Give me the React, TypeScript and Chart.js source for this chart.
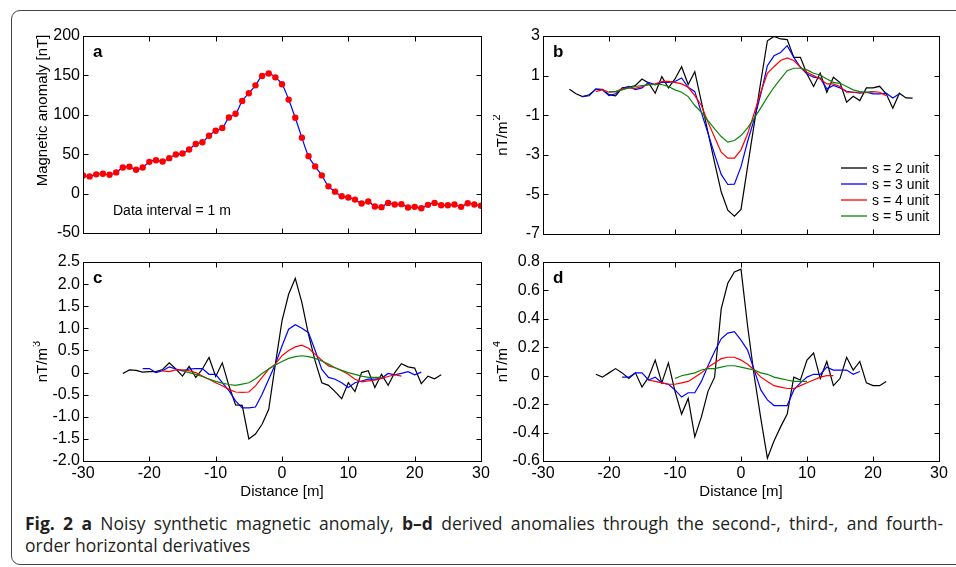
import React, { useEffect, useRef } from 'react';
import { Chart, registerables } from 'chart.js';

Chart.register(...registerables);

// ---------- data ----------
const distanceMin = -30;
const distanceMax = 30;
const distanceStep = 10;

// panel a: noisy synthetic anomaly, one sample per metre starting at x = -30
const anomalyX0 = -30;
const anomalyValues = [23.1, 21.8, 24.4, 25.2, 24.0, 26.9, 33.2, 34.0, 30.3, 33.2,
  40.3, 42.4, 40.8, 45.0, 49.6, 50.8, 55.9, 63.0, 65.1, 73.5,
  79.8, 83.2, 96.6, 101.3, 117.6, 127.3, 137.4, 149.2, 152.5, 147.5,
  138.7, 119.3, 96.2, 71.0, 47.5, 34.5, 23.1, 9.2, 2.5, -3.4,
  -5.0, -7.6, -12.6, -10.1, -16.4, -17.2, -11.8, -13.9, -13.4, -17.6,
  -16.8, -18.5, -14.3, -11.8, -14.7, -14.7, -13.9, -16.8, -12.2, -13.9, -15.5];

const seriesLabels = ['s = 2 unit', 's = 3 unit', 's = 4 unit', 's = 5 unit'];
const seriesColors = ['#000000', '#0000ff', '#ff0000', '#0a850a'];

// panel b: second-order derivative
const bS2X0 = -26;
const bS2 = [0.31, 0.08, -0.06, 0.03, 0.31, 0.31, 0.04, -0.02, 0.38, 0.41,
  0.5, 0.83, 0.63, 0.11, 0.95, 0.38, 0.83, 1.45, 0.55, 1.2,
  -0.33, -1.87, -3.4, -4.87, -5.8, -6.1, -5.76, -3.6, -1.45, 0.7,
  2.76, 2.98, 2.85, 2.82, 1.92, 1.92, 1.08, 0.45, 1.13, 0.16,
  0.92, 0.65, -0.34, -0.04, -0.26, 0.38, 0.38, 0.46, 0.08, -0.65,
  0.11, -0.13, -0.14];
const bS3X0 = -24;
const bS3 = [-0.06, -0.02, 0.33, 0.28, -0.01, 0.08, 0.36, 0.45, 0.29, 0.38,
  0.66, 0.53, 0.66, 0.66, 0.7, 0.88, 0.41, 0.19, -0.87, -1.92,
  -2.98, -3.99, -4.5, -4.48, -3.6, -2.33, -1.2, 0.07, 1.5, 2.0,
  2.17, 2.51, 1.92, 1.42, 1.08, 0.92, 0.87, 0.33, 0.5, 0.38,
  0.21, 0.16, 0.11, 0.16, 0.08, 0.08, 0.11, -0.13, 0.08];
const bS4X0 = -22;
const bS4 = [0.19, 0.29, 0.16, 0.19, 0.33, 0.38, 0.36, 0.45, 0.55, 0.58,
  0.7, 0.71, 0.66, 0.58, 0.41, -0.01, -0.51, -1.35, -2.11, -2.87,
  -3.17, -3.17, -2.75, -1.94, -0.9, 0.16, 1.12, 1.45, 1.76, 1.89,
  1.76, 1.42, 1.17, 1.0, 0.83, 0.58, 0.58, 0.45, 0.16, 0.16,
  0.16, 0.14, 0.19, 0.16, -0.01];
const bS5X0 = -20;
const bS5 = [0.19, 0.19, 0.28, 0.38, 0.45, 0.5, 0.53, 0.55, 0.55, 0.45,
  0.28, 0.16, -0.06, -0.51, -0.85, -1.27, -1.69, -2.08, -2.36, -2.28,
  -2.03, -1.64, -1.15, -0.63, -0.09, 0.41, 0.83, 1.25, 1.37, 1.37,
  1.29, 1.12, 1.03, 0.83, 0.66, 0.61, 0.45, 0.28, 0.19, 0.16, 0.19];

// panel c: third-order derivative
const cS2X0 = -24;
const cS2 = [-0.02, 0.06, 0.05, 0.01, 0.02, 0.02, 0.07, 0.22, 0.08, -0.08,
  0.14, -0.11, 0.08, 0.34, -0.09, 0.22, -0.3, -0.73, -0.74, -1.5,
  -1.39, -1.17, -0.83, 0.19, 1.17, 1.77, 2.13, 1.58, 0.86, 0.26,
  -0.23, -0.29, -0.43, -0.59, -0.23, -0.43, 0.0, 0.04, -0.34, -0.04,
  -0.29, 0.0, 0.2, 0.13, 0.1, -0.25, -0.08, -0.14, -0.05];
const cS3X0 = -21;
const cS3 = [0.09, 0.09, 0.0, 0.04, 0.13, 0.08, 0.04, 0.08, 0.09, 0.09,
  -0.04, -0.04, -0.23, -0.41, -0.64, -0.8, -0.8, -0.78, -0.49, -0.15,
  0.19, 0.6, 0.98, 1.08, 1.0, 0.9, 0.5, 0.07, -0.11, -0.15,
  -0.23, -0.34, -0.23, -0.19, -0.15, -0.15, -0.13, -0.02, -0.05, -0.02,
  0.02, -0.05, 0.01];
const cS4X0 = -18;
const cS4 = [0.04, 0.02, 0.06, 0.06, 0.04, 0.0, -0.08, -0.15, -0.23, -0.3,
  -0.38, -0.44, -0.45, -0.44, -0.3, -0.11, 0.08, 0.19, 0.38, 0.5,
  0.58, 0.62, 0.55, 0.41, 0.28, 0.15, 0.11, 0.04, -0.04, -0.15,
  -0.21, -0.19, -0.17, -0.13, -0.09, -0.05, -0.08];
const cS5X0 = -15;
const cS5 = [0.04, 0.0, -0.04, -0.09, -0.15, -0.2, -0.24, -0.27, -0.29, -0.26,
  -0.23, -0.14, -0.02, 0.08, 0.17, 0.25, 0.32, 0.36, 0.38, 0.36,
  0.32, 0.26, 0.19, 0.11, 0.05, 0.0, -0.04, -0.08, -0.11, -0.11, -0.11];

// panel d: fourth-order derivative
const dS2X0 = -22;
const dS2 = [0.01, -0.01, 0.02, 0.05, 0.02, -0.02, 0.02, -0.08, -0.01, 0.11,
  -0.05, 0.09, -0.11, -0.27, -0.16, -0.43, -0.29, -0.11, -0.01, 0.47,
  0.65, 0.73, 0.75, 0.35, 0.0, -0.3, -0.58, -0.46, -0.36, -0.27,
  -0.01, -0.03, 0.11, 0.16, -0.02, 0.1, -0.07, -0.02, 0.13, 0.04,
  0.1, -0.05, -0.07, -0.07, -0.04];
const dS3X0 = -18;
const dS3 = [-0.01, -0.01, 0.02, 0.02, -0.03, -0.01, -0.05, -0.06, -0.1, -0.15,
  -0.12, -0.12, -0.04, 0.07, 0.17, 0.26, 0.3, 0.31, 0.25, 0.18,
  0.04, -0.1, -0.17, -0.21, -0.21, -0.21, -0.1, -0.05, -0.01, 0.01,
  0.01, 0.06, 0.04, 0.04, 0.04, 0.01, 0.03];
const dS4X0 = -14;
const dS4 = [-0.03, -0.04, -0.05, -0.06, -0.06, -0.05, -0.04, -0.01, 0.02, 0.06,
  0.09, 0.12, 0.13, 0.13, 0.11, 0.08, 0.04, -0.01, -0.04, -0.07,
  -0.08, -0.09, -0.09, -0.07, -0.05, -0.03, -0.01, 0.0, 0.0];
const dS5X0 = -10;
const dS5 = [-0.02, 0.0, 0.01, 0.02, 0.04, 0.05, 0.05, 0.06, 0.07, 0.07,
  0.06, 0.05, 0.04, 0.02, 0.01, -0.01, -0.02, -0.03, -0.04, -0.04, -0.04];

// axis ranges / ticks
const aYMin = -50, aYMax = 200, aYStep = 50;
const bYMin = -7, bYMax = 3, bYStep = 2;
const cYMin = -2.0, cYMax = 2.5, cYStep = 0.5;
const dYMin = -0.6, dYMax = 0.8, dYStep = 0.2;

const captionLine1Bold = 'Fig. 2';
const captionLine1 = ' Noisy synthetic magnetic anomaly, ';
const captionLine1b = ' derived anomalies through the second-, third-, and fourth-';
const captionLine2 = 'order horizontal derivatives';

// ---------- helpers ----------
const FONT = "'Liberation Sans', Arial, Helvetica, sans-serif";

function pts(x0: number, values: number[]) {
  return values.map((y, i) => ({ x: x0 + i, y }));
}

function fmt1(v: number) {
  if (Math.abs(v) < 1e-9) return '0';
  return v.toFixed(1);
}

const framePlugin = {
  id: 'frame',
  afterDraw(chart: any, _args: any, opts: any) {
    const { ctx, chartArea: a, scales } = chart;
    ctx.save();
    const L = Math.round(a.left) + 0.5;
    const T = Math.round(a.top) + 0.5;
    const R = Math.round(a.right) + 0.5;
    const B = Math.round(a.bottom) + 0.5;
    ctx.strokeStyle = '#000';
    ctx.lineWidth = 1;
    ctx.strokeRect(L, T, R - L, B - T);
    const tl = 5;
    ctx.beginPath();
    scales.x.ticks.forEach((t: any) => {
      const px = Math.round(scales.x.getPixelForValue(t.value)) + 0.5;
      ctx.moveTo(px, B); ctx.lineTo(px, B - tl);
      ctx.moveTo(px, T); ctx.lineTo(px, T + tl);
    });
    scales.y.ticks.forEach((t: any) => {
      const py = Math.round(scales.y.getPixelForValue(t.value)) + 0.5;
      ctx.moveTo(L, py); ctx.lineTo(L + tl, py);
      ctx.moveTo(R, py); ctx.lineTo(R - tl, py);
    });
    ctx.stroke();

    // y axis title (rotated), with optional superscript
    if (opts.yTitle) {
      const cx = a.left - 41;
      const cy = opts.yTitleShift != null ? (a.top + a.bottom) / 2 + opts.yTitleShift : (a.top + a.bottom) / 2;
      ctx.save();
      ctx.translate(cx, cy);
      ctx.rotate(-Math.PI / 2);
      ctx.fillStyle = '#000';
      ctx.textBaseline = 'middle';
      ctx.textAlign = 'left';
      ctx.font = `15px ${FONT}`;
      const w1 = ctx.measureText(opts.yTitle).width;
      let w2 = 0;
      if (opts.ySup) {
        ctx.font = `11px ${FONT}`;
        w2 = ctx.measureText(opts.ySup).width + 1;
      }
      const start = -(w1 + w2) / 2;
      ctx.font = `15px ${FONT}`;
      ctx.fillText(opts.yTitle, start, 1);
      if (opts.ySup) {
        ctx.font = `11px ${FONT}`;
        ctx.fillText(opts.ySup, start + w1 + 1, -5);
      }
      ctx.restore();
    }

    if (opts.letter) {
      ctx.fillStyle = '#000';
      ctx.font = `bold 17px ${FONT}`;
      ctx.textBaseline = 'alphabetic';
      ctx.textAlign = 'left';
      ctx.fillText(opts.letter, a.left + 10, a.top + 21);
    }
    if (opts.note) {
      ctx.fillStyle = '#000';
      ctx.font = `14px ${FONT}`;
      ctx.textBaseline = 'alphabetic';
      ctx.textAlign = 'left';
      ctx.fillText(opts.note, a.left + 30, a.bottom - 18);
    }
    if (opts.legend) {
      ctx.font = `14px ${FONT}`;
      ctx.textBaseline = 'middle';
      ctx.textAlign = 'left';
      const ds = chart.data.datasets;
      ds.forEach((d: any, i: number) => {
        const y = a.bottom - 66 + i * 16;
        ctx.strokeStyle = d.borderColor;
        ctx.lineWidth = 1.3;
        ctx.beginPath();
        ctx.moveTo(a.right - 98, y);
        ctx.lineTo(a.right - 72, y);
        ctx.stroke();
        ctx.fillStyle = '#000';
        ctx.fillText(d.label, a.right - 67, y + 1);
      });
    }
    ctx.restore();
  },
};

type PanelSpec = {
  left: number; top: number; right: number; bottom: number;
  hasX: boolean;
  yMin: number; yMax: number; yStep: number;
  yFmt: (v: number) => string;
  yTitle: string;
  ySup?: string;
  yTitleShift?: number;
  letter: string;
  note?: string;
  legend?: boolean;
  datasets: any[];
};

function Panel({ spec }: { spec: PanelSpec }) {
  const ref = useRef<HTMLCanvasElement>(null);
  const cl = spec.left - 50;
  const ct = spec.top - 16;
  const cw = spec.right + 14 - cl;
  const bottomExtra = spec.hasX ? 40 : 14;
  const ch = spec.bottom + bottomExtra - ct;

  useEffect(() => {
    const tickFont = { family: FONT, size: 16 };
    const titleFont = { family: FONT, size: 15 };
    const chart = new Chart(ref.current as HTMLCanvasElement, {
      type: 'line',
      data: { datasets: spec.datasets },
      options: {
        animation: false,
        responsive: false,
        maintainAspectRatio: false,
        devicePixelRatio: 1,
        layout: { padding: { left: 0, top: 16, right: 14, bottom: spec.hasX ? 0 : 14 } },
        plugins: {
          legend: { display: false },
          tooltip: { enabled: false },
          frame: {
            letter: spec.letter, note: spec.note, legend: spec.legend,
            yTitle: spec.yTitle, ySup: spec.ySup, yTitleShift: spec.yTitleShift,
          },
        } as any,
        scales: {
          x: {
            type: 'linear',
            min: distanceMin,
            max: distanceMax,
            ticks: { stepSize: distanceStep, display: spec.hasX, padding: 3, font: tickFont, color: '#000', maxRotation: 0, autoSkip: false },
            grid: { display: false, drawTicks: false },
            border: { display: false },
            title: { display: spec.hasX, text: 'Distance [m]', font: titleFont, color: '#000', padding: 0 },
            afterFit: (s: any) => { s.height = spec.hasX ? 40 : 0; },
          },
          y: {
            type: 'linear',
            min: spec.yMin,
            max: spec.yMax,
            ticks: { stepSize: spec.yStep, font: tickFont, color: '#000', padding: 3, autoSkip: false, callback: (v: any) => spec.yFmt(Number(v)) },
            grid: { display: false, drawTicks: false },
            border: { display: false },
            title: { display: false },
            afterFit: (s: any) => { s.width = 50; },
          },
        },
      } as any,
      plugins: [framePlugin],
    });
    return () => chart.destroy();
  }, []);

  return (
    <canvas
      ref={ref}
      width={cw}
      height={ch}
      style={{ position: 'absolute', left: cl, top: ct, width: cw, height: ch }}
    />
  );
}

function lineSet(label: string, color: string, x0: number, values: number[], order: number) {
  return {
    label,
    data: pts(x0, values),
    borderColor: color,
    backgroundColor: color,
    borderWidth: 1.2,
    pointRadius: 0,
    tension: 0,
    fill: false,
    order,
  };
}

export default function App() {
  const panels: PanelSpec[] = [
    {
      left: 83, top: 36, right: 481, bottom: 233, hasX: false,
      yMin: aYMin, yMax: aYMax, yStep: aYStep, yFmt: (v) => String(Math.round(v)),
      yTitle: 'Magnetic anomaly [nT]', yTitleShift: -24, letter: 'a', note: 'Data interval = 1 m',
      datasets: [{
        label: 'anomaly',
        data: pts(anomalyX0, anomalyValues),
        borderColor: '#0000ff',
        borderWidth: 1.2,
        pointRadius: 3.2,
        pointBackgroundColor: '#ff0000',
        pointBorderWidth: 0,
        tension: 0.4,
        fill: false,
      }],
    },
    {
      left: 543, top: 36, right: 939, bottom: 234, hasX: false,
      yMin: bYMin, yMax: bYMax, yStep: bYStep, yFmt: (v) => String(Math.round(v)),
      yTitle: 'nT/m', ySup: '2', letter: 'b', legend: true,
      datasets: [
        lineSet(seriesLabels[0], seriesColors[0], bS2X0, bS2, 4),
        lineSet(seriesLabels[1], seriesColors[1], bS3X0, bS3, 3),
        lineSet(seriesLabels[2], seriesColors[2], bS4X0, bS4, 2),
        lineSet(seriesLabels[3], seriesColors[3], bS5X0, bS5, 1),
      ],
    },
    {
      left: 83, top: 262, right: 481, bottom: 461, hasX: true,
      yMin: cYMin, yMax: cYMax, yStep: cYStep, yFmt: fmt1,
      yTitle: 'nT/m', ySup: '3', letter: 'c',
      datasets: [
        lineSet(seriesLabels[0], seriesColors[0], cS2X0, cS2, 4),
        lineSet(seriesLabels[1], seriesColors[1], cS3X0, cS3, 3),
        lineSet(seriesLabels[2], seriesColors[2], cS4X0, cS4, 2),
        lineSet(seriesLabels[3], seriesColors[3], cS5X0, cS5, 1),
      ],
    },
    {
      left: 543, top: 262, right: 939, bottom: 461, hasX: true,
      yMin: dYMin, yMax: dYMax, yStep: dYStep, yFmt: fmt1,
      yTitle: 'nT/m', ySup: '4', letter: 'd',
      datasets: [
        lineSet(seriesLabels[0], seriesColors[0], dS2X0, dS2, 4),
        lineSet(seriesLabels[1], seriesColors[1], dS3X0, dS3, 3),
        lineSet(seriesLabels[2], seriesColors[2], dS4X0, dS4, 2),
        lineSet(seriesLabels[3], seriesColors[3], dS5X0, dS5, 1),
      ],
    },
  ];

  return (
    <div style={{ position: 'absolute', left: 0, top: 0, width: 956, height: 567, overflow: 'hidden', background: '#fff' }}>
      <div style={{
        position: 'absolute', left: 11, top: 10, width: 980, height: 555,
        border: '1px solid #444', borderRadius: 9, boxSizing: 'border-box',
      }} />
      {panels.map((p, i) => <Panel key={i} spec={p} />)}
      <div style={{
        position: 'absolute', left: 25, top: 512, width: 918,
        fontFamily: "'Open Sans', 'Noto Sans', sans-serif", fontSize: 17.5, lineHeight: '22px', color: '#231f20',
      }}>
        <div style={{ textAlign: 'justify', textAlignLast: 'justify' as any }}>
          <b>{captionLine1Bold}</b>{' '}<b>a</b>{captionLine1}<b>b–d</b>{captionLine1b}
        </div>
        <div style={{ whiteSpace: 'nowrap' }}>{captionLine2}</div>
      </div>
    </div>
  );
}
